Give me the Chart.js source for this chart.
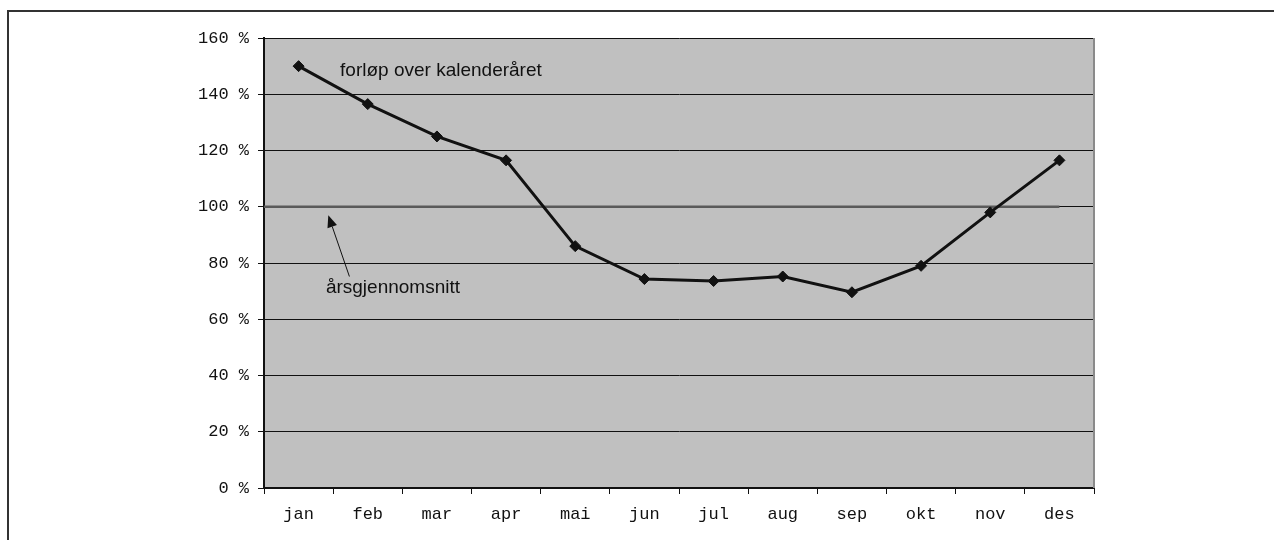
<!DOCTYPE html>
<html>
<head>
<meta charset="utf-8">
<title>Forløp over kalenderåret</title>
<script src="https://cdn.jsdelivr.net/npm/chart.js@4/dist/chart.umd.min.js"></script>
<style>
  html, body { margin: 0; padding: 0; background: #fff; overflow: hidden; }
  #wrap { position: relative; width: 1274px; height: 540px; }
  #frame { position: absolute; left: 7px; top: 10px; width: 1300px; height: 560px;
           border-top: 2px solid #333; border-left: 2px solid #333; }
  #c { position: absolute; left: 0; top: 0; }
</style>
</head>
<body>
<div id="wrap">
  <div id="frame"></div>
  <canvas id="c" width="1274" height="540"></canvas>
</div>
<script>
// Monthly share of the annual mean, in percent
const months = ['jan', 'feb', 'mar', 'apr', 'mai', 'jun', 'jul', 'aug', 'sep', 'okt', 'nov', 'des'];
const monthlyPercent = [150, 136.5, 125, 116.5, 86, 74.3, 73.6, 75.2, 69.6, 79, 98, 116.5];
const annualAverage = [100];
const yTicks = [0, 20, 40, 60, 80, 100, 120, 140, 160];
const seriesLabel = 'forløp over kalenderåret';
const averageLabel = 'årsgjennomsnitt';

const monoFont = { family: "'Liberation Mono', 'Courier New', monospace", size: 17 };
const sansFont = "19px 'Liberation Sans', Arial, sans-serif";

// Annual-average line and the right edge of the plot
const decorations = {
  id: 'decorations',
  beforeDatasetsDraw(chart) {
    const { ctx, chartArea: a, scales: { x, y } } = chart;
    ctx.save();
    // annual average: from the plot's left edge to the last month
    const yAvg = y.getPixelForValue(annualAverage[0]);
    ctx.strokeStyle = '#5a5a5a';
    ctx.lineWidth = 2.5;
    ctx.beginPath();
    ctx.moveTo(a.left, yAvg);
    ctx.lineTo(x.getPixelForValue(months.length - 1), yAvg);
    ctx.stroke();
    // right edge of the plot
    ctx.strokeStyle = '#8a8a8a';
    ctx.lineWidth = 2;
    ctx.beginPath();
    ctx.moveTo(a.right, a.top);
    ctx.lineTo(a.right, a.bottom);
    ctx.stroke();
    ctx.restore();
  },
  // text notes and the arrow pointing at the average line
  afterDatasetsDraw(chart) {
    const { ctx, scales: { x, y } } = chart;
    ctx.save();
    ctx.fillStyle = '#111';
    ctx.font = sansFont;
    ctx.textBaseline = 'middle';
    ctx.textAlign = 'left';
    ctx.fillText(seriesLabel, x.getPixelForValue(0.6), y.getPixelForValue(148.4));
    ctx.fillText(averageLabel, x.getPixelForValue(0.395), y.getPixelForValue(71.3));

    const tx = x.getPixelForValue(0.43), ty = y.getPixelForValue(97);
    const sx = x.getPixelForValue(0.735), sy = y.getPixelForValue(75.2);
    const ang = Math.atan2(ty - sy, tx - sx);
    const head = 12, half = 5;
    const bx = tx - head * Math.cos(ang), by = ty - head * Math.sin(ang);
    ctx.strokeStyle = '#111';
    ctx.lineWidth = 1;
    ctx.beginPath();
    ctx.moveTo(sx, sy);
    ctx.lineTo(bx, by);
    ctx.stroke();
    ctx.beginPath();
    ctx.moveTo(tx, ty);
    ctx.lineTo(bx + half * Math.sin(ang), by - half * Math.cos(ang));
    ctx.lineTo(bx - half * Math.sin(ang), by + half * Math.cos(ang));
    ctx.closePath();
    ctx.fill();
    ctx.restore();
  }
};

const plotBackground = {
  id: 'plotBackground',
  beforeDraw(chart) {
    const { ctx, chartArea: a } = chart;
    ctx.save();
    ctx.fillStyle = '#c0c0c0';
    ctx.fillRect(a.left, a.top, a.right - a.left, a.bottom - a.top);
    ctx.restore();
  }
};

new Chart(document.getElementById('c'), {
  type: 'line',
  data: {
    labels: months,
    datasets: [{
      label: seriesLabel,
      data: monthlyPercent,
      borderColor: '#111',
      backgroundColor: '#111',
      borderWidth: 3,
      pointStyle: 'rectRot',
      pointRadius: 5.5,
      pointBorderWidth: 1,
      tension: 0,
      fill: false
    }]
  },
  options: {
    responsive: false,
    animation: false,
    events: [],
    layout: { padding: { left: 0, right: 180, top: 38, bottom: 0 } },
    plugins: { legend: { display: false }, tooltip: { enabled: false } },
    scales: {
      x: {
        type: 'category',
        offset: true,
        grid: { display: true, drawOnChartArea: false, drawTicks: true, tickLength: 6, color: '#111', offset: true },
        border: { display: true, color: '#111', width: 2 },
        ticks: { color: '#111', font: monoFont, padding: 10, maxRotation: 0, autoSkip: false },
        afterFit(scale) { scale.height = 52; }
      },
      y: {
        min: 0,
        max: 160,
        afterBuildTicks(scale) { scale.ticks = yTicks.map(v => ({ value: v })); },
        grid: { color: '#111', lineWidth: 1, tickLength: 6, drawTicks: true },
        border: { display: true, color: '#111', width: 2 },
        ticks: { color: '#111', font: monoFont, padding: 9, callback: v => v + ' %' },
        afterFit(scale) { scale.width = 264; }
      }
    }
  },
  plugins: [plotBackground, decorations]
});
</script>
</body>
</html>
